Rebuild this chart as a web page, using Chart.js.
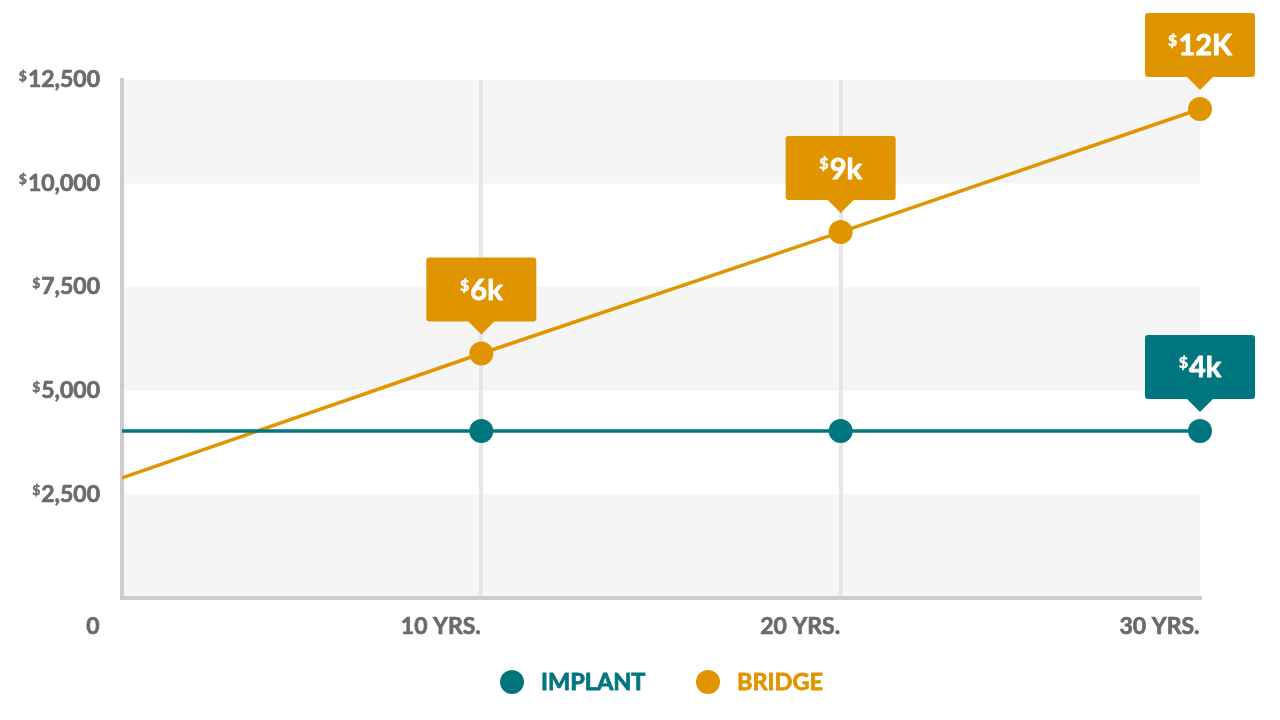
<!DOCTYPE html>
<html>
<head>
<meta charset="utf-8">
<script src="https://cdn.jsdelivr.net/npm/chart.js@4.4.1/dist/chart.umd.min.js"></script>
<style>
  html, body { margin: 0; padding: 0; background: #ffffff; }
  #wrap { width: 1280px; height: 720px; position: relative; }
</style>
</head>
<body>
<div id="wrap"><canvas id="c" width="1280" height="720"></canvas></div>
<script>
// ---- data ----
const years = [0, 10, 20, 30];
const xTickLabels = ['0', '10 YRS.', '20 YRS.', '30 YRS.'];
const yTickValues = [2500, 5000, 7500, 10000, 12500];
const yTickLabels = ['2,500', '5,000', '7,500', '10,000', '12,500'];
const implantValues = [4030, 4030, 4030, 4030];
const bridgeValues = [2900, 5900, 8830, 11800];
const implantCallouts = ['', '', '', '4k'];
const bridgeCallouts = ['', '6k', '9k', '12K'];
const seriesNames = ['IMPLANT', 'BRIDGE'];

const TEAL = '#00767e';
const ORANGE = '#e09500';
const LABEL = '#6b6b6b';
const FONT = 'Lato, "Open Sans", sans-serif';
const W = 'bold';

function pts(vals) { return years.map((x, i) => ({ x: x, y: vals[i] })); }

// heavy text: fill plus a thin stroke in the same colour
function heavyText(ctx, txt, x, y, sw) {
  ctx.fillText(txt, x, y);
  ctx.save();
  ctx.strokeStyle = ctx.fillStyle;
  ctx.lineWidth = sw;
  ctx.lineJoin = 'round';
  ctx.strokeText(txt, x, y);
  ctx.restore();
}

const bandsPlugin = {
  id: 'bands',
  beforeDraw(chart) {
    const { ctx, chartArea: a, scales: { y } } = chart;
    ctx.save();
    ctx.fillStyle = '#f5f5f5';
    const edges = [0].concat(yTickValues);
    for (let i = 0; i < edges.length - 1; i += 2) {
      const top = y.getPixelForValue(edges[i + 1]);
      const bot = y.getPixelForValue(edges[i]);
      ctx.fillRect(a.left, top, a.right - a.left, bot - top);
    }
    ctx.restore();
  }
};

function drawDollarText(ctx, text, xRef, yMid, bigSize, smallSize, color, align, sw) {
  ctx.save();
  ctx.fillStyle = color;
  ctx.textBaseline = 'alphabetic';
  ctx.font = W + ' ' + smallSize + 'px ' + FONT;
  const ws = ctx.measureText('$').width;
  ctx.font = W + ' ' + bigSize + 'px ' + FONT;
  const wb = ctx.measureText(text).width;
  const total = ws + 1 + wb;
  let left = align === 'center' ? xRef - total / 2 : xRef - total;
  const capH = bigSize * 0.72;
  const base = yMid + capH / 2;
  heavyText(ctx, text, left + ws + 1, base, sw);
  ctx.font = W + ' ' + smallSize + 'px ' + FONT;
  heavyText(ctx, '$', left, base - capH + smallSize * 0.72, sw * 0.7);
  ctx.restore();
}

const labelsPlugin = {
  id: 'labels',
  afterDraw(chart) {
    const { ctx, scales: { x, y } } = chart;
    yTickValues.forEach((v, i) => {
      drawDollarText(ctx, yTickLabels[i], 100, y.getPixelForValue(v) - 1, 23, 14, LABEL, 'right', 0.7);
    });
    ctx.save();
    ctx.fillStyle = LABEL;
    ctx.font = W + ' 23px ' + FONT;
    ctx.textAlign = 'right';
    ctx.textBaseline = 'middle';
    years.forEach((v, i) => {
      const px = i === 0 ? 100 : x.getPixelForValue(v);
      heavyText(ctx, xTickLabels[i], px - 0.5, 627, 0.7);
    });
    ctx.restore();

    const callSets = [implantCallouts, bridgeCallouts];
    chart.data.datasets.forEach((ds, di) => {
      const meta = chart.getDatasetMeta(di);
      meta.data.forEach((el, j) => {
        const txt = callSets[di][j];
        if (!txt) return;
        const cx = el.x, cy = el.y;
        const w = 110, h = 64;
        const bottom = cy - 32;
        const top = bottom - h;
        ctx.save();
        ctx.fillStyle = ds.borderColor;
        ctx.beginPath();
        ctx.roundRect(cx - w / 2, top, w, h, 3);
        ctx.fill();
        ctx.beginPath();
        ctx.moveTo(cx - 14, bottom - 1);
        ctx.lineTo(cx + 14, bottom - 1);
        ctx.lineTo(cx, bottom + 13);
        ctx.closePath();
        ctx.fill();
        ctx.restore();
        drawDollarText(ctx, txt, cx, top + h / 2, 29, 16, '#ffffff', 'center', 0.8);
      });
    });

    const items = [
      { name: seriesNames[0], color: TEAL, cx: 512 },
      { name: seriesNames[1], color: ORANGE, cx: 708 }
    ];
    ctx.save();
    items.forEach(it => {
      ctx.fillStyle = it.color;
      ctx.beginPath();
      ctx.arc(it.cx, 682, 12, 0, Math.PI * 2);
      ctx.fill();
      ctx.font = W + ' 23.5px ' + FONT;
      ctx.textBaseline = 'middle';
      ctx.textAlign = 'left';
      heavyText(ctx, it.name, it.cx + 29, 682, 0.8);
    });
    ctx.restore();
  }
};

new Chart(document.getElementById('c'), {
  type: 'line',
  data: {
    datasets: [
      {
        label: seriesNames[0],
        data: pts(implantValues),
        borderColor: TEAL,
        backgroundColor: TEAL,
        borderWidth: 3.5,
        pointRadius: [0, 12, 12, 12],
        pointHoverRadius: [0, 12, 12, 12],
        pointBorderWidth: 0,
        tension: 0,
        clip: false,
        order: 0
      },
      {
        label: seriesNames[1],
        data: pts(bridgeValues),
        borderColor: ORANGE,
        backgroundColor: ORANGE,
        borderWidth: 3.5,
        pointRadius: [0, 12, 12, 12],
        pointHoverRadius: [0, 12, 12, 12],
        pointBorderWidth: 0,
        tension: 0,
        clip: false,
        order: 1
      }
    ]
  },
  options: {
    responsive: false,
    animation: false,
    events: [],
    layout: { padding: { left: 122, right: 80, top: 80, bottom: 122 } },
    plugins: { legend: { display: false }, tooltip: { enabled: false } },
    scales: {
      x: {
        type: 'linear',
        min: 0, max: 30,
        ticks: { display: false, stepSize: 10 },
        grid: {
          drawTicks: false,
          lineWidth: 4,
          color: (c) => (c.tick && (c.tick.value === 10 || c.tick.value === 20)) ? '#e6e6e6' : 'rgba(0,0,0,0)'
        },
        border: { display: true, color: '#cccccc', width: 4 }
      },
      y: {
        min: 0, max: 12500,
        ticks: { display: false, stepSize: 2500 },
        grid: { drawTicks: false, color: 'rgba(0,0,0,0)' },
        border: { display: true, color: '#cccccc', width: 4 }
      }
    }
  },
  plugins: [bandsPlugin, labelsPlugin]
});
</script>
</body>
</html>
